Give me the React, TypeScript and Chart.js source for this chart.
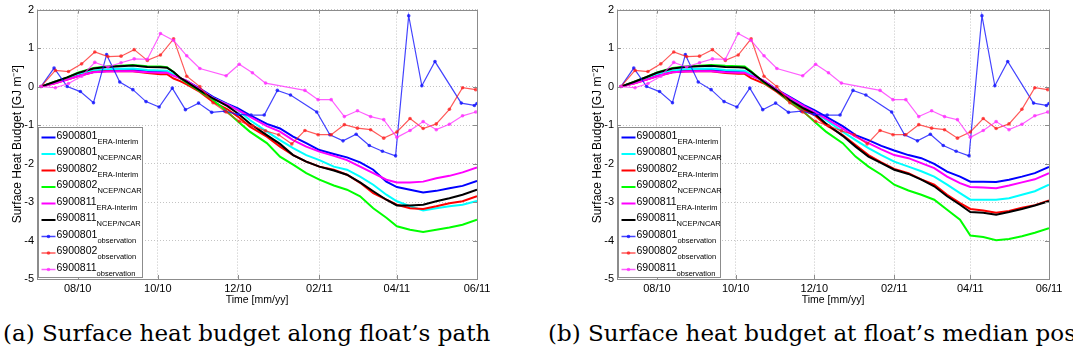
import React, { useEffect, useRef } from 'react';
import { Chart, registerables } from 'chart.js';

Chart.register(...registerables);

// ---- axis definitions (x in days since 1 July 2010) ----
const X_MIN = 0;
const X_MAX = 335;
const TICK_DAYS = [31, 92, 153, 215, 274, 335];
const TICK_LABELS = ['08/10', '10/10', '12/10', '02/11', '04/11', '06/11'];
const Y_MIN = -5;
const Y_MAX = 2;
const X_TITLE = 'Time [mm/yy]';
const Y_TITLE = 'Surface Heat Budget [GJ m⁻²]';
const CAPTION_A = '(a) Surface heat budget along float’s path';
const CAPTION_B = '(b) Surface heat budget at float’s median position';

// ---- series meta ----
const SERIES_IDS = ['6900801', '6900801', '6900802', '6900802', '6900811', '6900811', '6900801', '6900802', '6900811'];
const SERIES_SOURCES = ['ERA-Interim', 'NCEP/NCAR', 'ERA-Interim', 'NCEP/NCAR', 'ERA-Interim', 'NCEP/NCAR', 'observation', 'observation', 'observation'];
const SERIES_COLORS = ['#0000ff', '#00ffff', '#ff0000', '#00ff00', '#ff00ff', '#000000', 'rgba(20,20,255,0.8)', 'rgba(255,20,20,0.7)', 'rgba(255,40,255,0.75)'];

// ---- model sample days ----
const MODEL_DAYS = [3, 13, 23, 31, 43, 53, 63, 73, 84, 94, 99, 104, 109, 114, 124, 134, 145, 153, 162, 175, 185, 195, 205, 215, 226, 236, 246, 256, 266, 274, 284, 294, 304, 314, 324, 335];

// (a) along float's path
const PATH_801_ERA = [0, 0.1, 0.2, 0.3, 0.38, 0.41, 0.42, 0.43, 0.40, 0.38, 0.37, 0.30, 0.22, 0.15, -0.05, -0.27, -0.45, -0.57, -0.74, -0.97, -1.09, -1.30, -1.47, -1.65, -1.75, -1.84, -1.97, -2.16, -2.47, -2.61, -2.68, -2.75, -2.71, -2.64, -2.58, -2.45];
const PATH_801_NCEP = [0, 0.1, 0.22, 0.32, 0.42, 0.45, 0.46, 0.47, 0.43, 0.42, 0.41, 0.32, 0.22, 0.12, -0.08, -0.30, -0.47, -0.61, -0.87, -1.17, -1.39, -1.60, -1.78, -1.91, -2.08, -2.16, -2.34, -2.55, -2.81, -2.98, -3.11, -3.22, -3.16, -3.11, -3.07, -2.97];
const PATH_802_ERA = [0, 0.08, 0.18, 0.27, 0.38, 0.40, 0.40, 0.40, 0.35, 0.32, 0.32, 0.21, 0.14, 0.06, -0.14, -0.40, -0.59, -0.78, -1.04, -1.30, -1.56, -1.78, -1.95, -2.08, -2.16, -2.29, -2.50, -2.77, -2.94, -3.07, -3.16, -3.18, -3.11, -3.03, -2.98, -2.85];
const PATH_802_NCEP = [0, 0.12, 0.24, 0.36, 0.48, 0.52, 0.54, 0.56, 0.53, 0.52, 0.50, 0.38, 0.22, 0.10, -0.12, -0.35, -0.66, -0.91, -1.17, -1.47, -1.82, -2.03, -2.25, -2.42, -2.57, -2.68, -2.85, -3.16, -3.41, -3.63, -3.72, -3.78, -3.72, -3.66, -3.59, -3.46];
const PATH_811_ERA = [0, 0.08, 0.18, 0.27, 0.37, 0.39, 0.40, 0.40, 0.37, 0.36, 0.36, 0.28, 0.22, 0.15, -0.07, -0.30, -0.47, -0.61, -0.78, -1.03, -1.17, -1.39, -1.56, -1.69, -1.80, -1.91, -2.08, -2.25, -2.42, -2.49, -2.49, -2.47, -2.38, -2.32, -2.23, -2.10];
const PATH_811_NCEP = [0, 0.12, 0.24, 0.35, 0.47, 0.51, 0.53, 0.55, 0.51, 0.50, 0.49, 0.38, 0.23, 0.12, -0.10, -0.31, -0.51, -0.70, -0.96, -1.26, -1.49, -1.78, -1.95, -2.08, -2.18, -2.29, -2.49, -2.72, -2.94, -3.09, -3.09, -3.07, -2.98, -2.90, -2.81, -2.68];

// (b) at float's median position
const MEDIAN_801_ERA = [0, 0.1, 0.2, 0.3, 0.38, 0.41, 0.42, 0.43, 0.40, 0.38, 0.37, 0.30, 0.22, 0.15, -0.08, -0.27, -0.48, -0.61, -0.78, -1.03, -1.26, -1.39, -1.54, -1.66, -1.78, -1.86, -2.01, -2.21, -2.34, -2.47, -2.47, -2.48, -2.42, -2.34, -2.25, -2.09];
const MEDIAN_801_NCEP = [0, 0.1, 0.22, 0.32, 0.42, 0.45, 0.46, 0.47, 0.43, 0.42, 0.41, 0.32, 0.22, 0.13, -0.09, -0.31, -0.53, -0.66, -0.87, -1.17, -1.39, -1.60, -1.78, -1.95, -2.08, -2.20, -2.34, -2.55, -2.77, -2.94, -2.94, -2.94, -2.90, -2.81, -2.72, -2.55];
const MEDIAN_802_ERA = [0, 0.08, 0.18, 0.27, 0.37, 0.39, 0.40, 0.40, 0.35, 0.33, 0.33, 0.22, 0.15, 0.08, -0.14, -0.40, -0.61, -0.74, -1.00, -1.26, -1.52, -1.78, -1.97, -2.14, -2.25, -2.41, -2.55, -2.81, -3.03, -3.18, -3.22, -3.28, -3.23, -3.15, -3.08, -2.96];
const MEDIAN_802_NCEP = [0, 0.12, 0.25, 0.37, 0.48, 0.52, 0.54, 0.56, 0.54, 0.53, 0.52, 0.40, 0.25, 0.10, -0.11, -0.40, -0.66, -0.91, -1.17, -1.47, -1.82, -2.08, -2.29, -2.55, -2.70, -2.81, -2.94, -3.20, -3.46, -3.87, -3.91, -3.99, -3.96, -3.89, -3.80, -3.68];
const MEDIAN_811_ERA = [0, 0.08, 0.18, 0.27, 0.37, 0.39, 0.40, 0.40, 0.37, 0.36, 0.36, 0.28, 0.22, 0.15, -0.09, -0.29, -0.51, -0.66, -0.83, -1.09, -1.30, -1.47, -1.63, -1.78, -1.86, -1.99, -2.12, -2.34, -2.51, -2.61, -2.62, -2.64, -2.57, -2.49, -2.41, -2.25];
const MEDIAN_811_NCEP = [0, 0.12, 0.25, 0.36, 0.47, 0.51, 0.53, 0.54, 0.51, 0.50, 0.49, 0.38, 0.25, 0.12, -0.11, -0.35, -0.57, -0.70, -0.96, -1.28, -1.56, -1.82, -1.99, -2.16, -2.27, -2.42, -2.59, -2.85, -3.07, -3.26, -3.28, -3.33, -3.26, -3.18, -3.09, -2.98];

// ---- observations ----
const OBS_DAYS_801 = [3, 13, 23, 33, 43, 53, 63, 73, 83, 93, 103, 113, 123, 133, 143, 153, 163, 173, 183, 193, 203, 213, 223, 233, 243, 253, 263, 273, 283, 293, 303, 313, 323, 333, 335];
const OBS_801 = [0, 0.48, 0.0, -0.13, -0.42, 0.83, 0.12, -0.08, -0.39, -0.53, -0.04, -0.6, -0.43, -0.67, -0.64, -0.72, -0.74, -0.74, -0.10, -0.22, null, -0.66, -1.25, -1.41, -1.24, -1.53, -1.68, -1.80, 1.84, 0.02, 0.65, null, -0.43, -0.49, -0.44];
const OBS_DAYS_802_811 = [3, 14, 24, 34, 44, 54, 64, 74, 84, 94, 104, 114, 124, 134, 144, 154, 164, 174, 184, 194, 204, 214, 224, 234, 244, 254, 264, 274, 284, 294, 304, 314, 324, 334];
const OBS_802 = [0, 0.42, 0.39, 0.59, 0.90, 0.78, 0.79, 0.96, 0.68, 0.82, 1.24, 0.27, 0.0, -0.42, -0.66, -0.90, -1.02, -1.15, -1.25, -1.49, -1.14, -1.25, -1.25, -0.99, -1.08, -1.12, -1.34, -1.18, -0.83, -1.09, -0.97, -0.59, -0.03, -0.08];
const OBS_811 = [0, -0.03, 0.08, 0.27, 0.63, 0.51, 0.62, 0.72, 0.71, 1.38, 1.2, 0.8, 0.47, null, 0.28, 0.58, 0.36, 0.09, null, null, -0.10, -0.34, -0.34, -0.78, -0.63, -0.78, -0.86, -1.32, -1.14, -0.91, -1.12, -0.98, -0.76, -0.66];

const PATH_MODELS = [PATH_801_ERA, PATH_801_NCEP, PATH_802_ERA, PATH_802_NCEP, PATH_811_ERA, PATH_811_NCEP];
const MEDIAN_MODELS = [MEDIAN_801_ERA, MEDIAN_801_NCEP, MEDIAN_802_ERA, MEDIAN_802_NCEP, MEDIAN_811_ERA, MEDIAN_811_NCEP];
const OBS_SETS = [
  { days: OBS_DAYS_801, vals: OBS_801 },
  { days: OBS_DAYS_802_811, vals: OBS_802 },
  { days: OBS_DAYS_802_811, vals: OBS_811 },
];

const SANS = "'Liberation Sans', Arial, sans-serif";
const N = SERIES_IDS.length;

function buildDatasets(models: number[][]) {
  const sets: any[] = [];
  models.forEach((vals, i) => {
    sets.push({
      label: SERIES_IDS[i] + ' ' + SERIES_SOURCES[i],
      data: MODEL_DAYS.map((d, j) => ({ x: d, y: vals[j] })),
      borderColor: SERIES_COLORS[i],
      backgroundColor: SERIES_COLORS[i],
      borderWidth: 2,
      pointRadius: 0,
      tension: 0,
      order: N - i,
    });
  });
  OBS_SETS.forEach((o, k) => {
    const i = 6 + k;
    sets.push({
      label: SERIES_IDS[i] + ' ' + SERIES_SOURCES[i],
      data: o.days.map((d, j) => ({ x: d, y: o.vals[j] })),
      borderColor: SERIES_COLORS[i],
      backgroundColor: SERIES_COLORS[i],
      pointBackgroundColor: SERIES_COLORS[i],
      pointBorderColor: SERIES_COLORS[i],
      borderWidth: 1.2,
      pointRadius: 1.8,
      pointBorderWidth: 0,
      spanGaps: true,
      tension: 0,
      order: N - i,
    });
  });
  return sets;
}

const framePlugin = {
  id: 'matlabFrame',
  afterDatasetsDraw(chart: any) {
    const { ctx, chartArea: a, scales } = chart;
    ctx.save();
    ctx.strokeStyle = '#8c8c8c';
    ctx.lineWidth = 1;
    ctx.strokeRect(Math.round(a.left) + 0.5, Math.round(a.top) + 0.5, Math.round(a.right - a.left), Math.round(a.bottom - a.top));
    ctx.beginPath();
    TICK_DAYS.forEach((d) => {
      const x = Math.round(scales.x.getPixelForValue(d)) + 0.5;
      ctx.moveTo(x, a.bottom); ctx.lineTo(x, a.bottom - 4);
      ctx.moveTo(x, a.top); ctx.lineTo(x, a.top + 4);
    });
    for (let v = Y_MIN; v <= Y_MAX; v++) {
      const y = Math.round(scales.y.getPixelForValue(v)) + 0.5;
      ctx.moveTo(a.left, y); ctx.lineTo(a.left + 4, y);
      ctx.moveTo(a.right, y); ctx.lineTo(a.right - 4, y);
    }
    ctx.stroke();
    ctx.restore();
  },
};

const legendPlugin = {
  id: 'matlabLegend',
  afterDraw(chart: any) {
    const { ctx, chartArea: a } = chart;
    const boxW = chart.options.plugins.matlabLegend.boxWidth;
    const boxH = 150;
    const bx = Math.round(a.left + 1) + 0.5;
    const by = Math.round(a.bottom - 2 - boxH) + 0.5;
    ctx.save();
    ctx.fillStyle = '#ffffff';
    ctx.fillRect(bx, by, boxW, boxH);
    ctx.strokeStyle = '#8c8c8c';
    ctx.lineWidth = 1;
    ctx.strokeRect(bx, by, boxW, boxH);
    for (let i = 0; i < N; i++) {
      const cy = by + 8.5 + i * 16.5;
      const obs = i >= 6;
      ctx.strokeStyle = SERIES_COLORS[i];
      ctx.lineWidth = obs ? 1.5 : 2;
      ctx.beginPath();
      ctx.moveTo(bx + 3, cy + 1.5);
      ctx.lineTo(bx + 17, cy + 1.5);
      ctx.stroke();
      if (obs) {
        ctx.fillStyle = SERIES_COLORS[i];
        ctx.beginPath();
        ctx.arc(bx + 10, cy + 1.5, 1.8, 0, Math.PI * 2);
        ctx.fill();
      }
      ctx.fillStyle = '#000';
      ctx.textBaseline = 'middle';
      ctx.textAlign = 'left';
      ctx.font = '10.5px ' + SANS;
      ctx.fillText(SERIES_IDS[i], bx + 18, cy);
      const w = ctx.measureText(SERIES_IDS[i]).width;
      ctx.font = '7.5px ' + SANS;
      ctx.fillText(SERIES_SOURCES[i], bx + 18 + w, cy + 5.5);
    }
    ctx.restore();
  },
};

function Panel(props: { models: number[][]; left: number; width: number; padLeft: number; padRight: number; legendW: number }) {
  const ref = useRef<HTMLCanvasElement>(null);
  const H = 310;
  useEffect(() => {
    const chart = new Chart(ref.current as HTMLCanvasElement, {
      type: 'line',
      data: { datasets: buildDatasets(props.models) },
      plugins: [framePlugin, legendPlugin],
      options: {
        animation: false,
        responsive: false,
        devicePixelRatio: 1,
        layout: { padding: { left: props.padLeft, right: props.padRight, top: 9, bottom: 0 } },
        plugins: {
          legend: { display: false },
          tooltip: { enabled: false },
          matlabLegend: { boxWidth: props.legendW },
        } as any,
        scales: {
          x: {
            type: 'linear',
            min: X_MIN,
            max: X_MAX,
            afterBuildTicks: (s: any) => { s.ticks = TICK_DAYS.map((v) => ({ value: v })); },
            afterFit: (s: any) => { s.height = 31; },
            ticks: {
              autoSkip: false,
              maxRotation: 0,
              padding: 3,
              color: '#000',
              font: { family: SANS, size: 11 },
              callback: (v: any) => TICK_LABELS[TICK_DAYS.indexOf(Number(v))] ?? '',
            },
            grid: { color: '#c4c4c4', lineWidth: 1, drawTicks: false },
            border: { display: false, dash: [1, 2] },
            title: { display: true, text: X_TITLE, color: '#000', font: { family: SANS, size: 10.5 }, padding: { top: 0, bottom: 4 } },
          },
          y: {
            type: 'linear',
            min: Y_MIN,
            max: Y_MAX,
            afterFit: (s: any) => { s.width = 37; },
            ticks: { stepSize: 1, padding: 3, color: '#000', font: { family: SANS, size: 11 } },
            grid: { color: '#c4c4c4', lineWidth: 1, drawTicks: false },
            border: { display: false, dash: [1, 2] },
            title: { display: true, text: Y_TITLE, color: '#000', font: { family: SANS, size: 12 }, padding: { top: 10, bottom: 0 } },
          },
        },
      } as any,
    });
    return () => chart.destroy();
  }, []);
  return (
    <div style={{ position: 'absolute', left: props.left, top: 0, width: props.width, height: H }}>
      <canvas ref={ref} width={props.width} height={H} style={{ width: props.width, height: H, display: 'block' }} />
    </div>
  );
}

export default function App() {
  const capStyle: React.CSSProperties = {
    position: 'absolute',
    top: 322,
    fontFamily: "'DejaVu Serif', serif",
    fontSize: 23,
    lineHeight: '23px',
    whiteSpace: 'nowrap',
    color: '#000',
  };
  return (
    <div style={{ position: 'fixed', left: 0, top: 0, width: 1073, height: 358, overflow: 'hidden', background: '#fff' }}>
      <Panel models={PATH_MODELS} left={0} width={505} padLeft={0} padRight={28} legendW={104} />
      <Panel models={MEDIAN_MODELS} left={540} width={533} padLeft={40} padRight={24} legendW={102} />
      <div style={{ ...capStyle, left: 3 }}>{CAPTION_A}</div>
      <div style={{ ...capStyle, left: 548 }}>{CAPTION_B}</div>
    </div>
  );
}
